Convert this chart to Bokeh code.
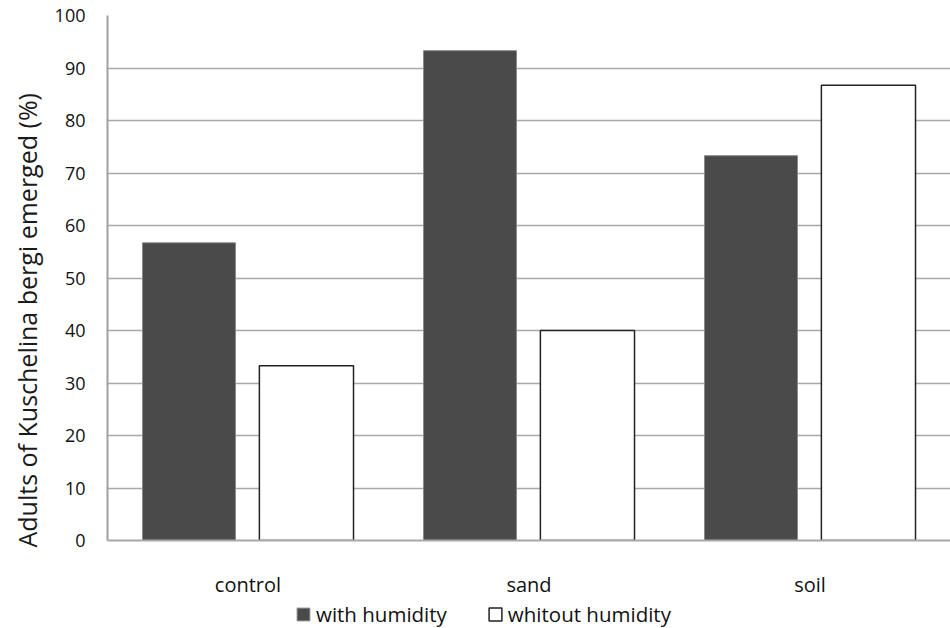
from bokeh.plotting import figure
from bokeh.models import FactorRange, Range1d, Legend, LegendItem, ColumnDataSource, FixedTicker, Title
from bokeh.layouts import column
from bokeh.transform import dodge
from bokeh.embed import file_html
from bokeh.resources import INLINE

categories = ["control", "sand", "soil"]
with_humidity = [56.7, 93.3, 73.3]
without_humidity = [33.3, 40.0, 86.7]
series_labels = ["with humidity", "whitout humidity"]
y_ticks = [0, 10, 20, 30, 40, 50, 60, 70, 80, 90, 100]
y_label = "Adults of Kuschelina bergi emerged (%)"

DARK = dict(fill_color="#4a4a4a", line_color="#8a8a8a", line_width=1)
LIGHT = dict(fill_color="white", line_color="#222222", line_width=1.5)

src = ColumnDataSource(dict(cat=categories, w=with_humidity, wo=without_humidity))

FONT = "Open Sans"

p = figure(x_range=FactorRange(*categories, range_padding=0), y_range=Range1d(0, 100),
           width=950, height=600, output_backend="svg", toolbar_location=None,
           min_border_left=107, min_border_right=0, min_border_top=15, min_border_bottom=52)
p.x_range.factor_padding = 0
p.outline_line_color = None

r1 = p.vbar(x=dodge("cat", -0.21, range=p.x_range), top="w", bottom=0, width=0.331, source=src, **DARK)
r2 = p.vbar(x=dodge("cat", 0.208, range=p.x_range), top="wo", bottom=0, width=0.335, source=src, **LIGHT)

p.yaxis.ticker = FixedTicker(ticks=y_ticks)
p.yaxis.major_label_text_font = FONT
p.yaxis.major_label_text_font_size = "18px"
p.yaxis.major_label_text_color = "#111111"
p.yaxis.major_label_standoff = 16
p.yaxis.major_tick_line_color = None
p.yaxis.minor_tick_line_color = None
p.yaxis.axis_line_color = "#a0a0a0"
p.yaxis.axis_line_width = 2

p.add_layout(Title(text=y_label, align="left", offset=-7, text_font=FONT, text_font_size="25px",
                   text_font_style="normal", text_color="#1a1a1a", vertical_align="top",
                   standoff=12), "left")

p.xaxis.major_label_text_font = FONT
p.xaxis.major_label_text_font_size = "20px"
p.xaxis.major_label_text_color = "#111111"
p.xaxis.major_label_standoff = 24
p.xaxis.major_tick_line_color = None
p.xaxis.axis_line_color = "#a8a8a8"
p.xaxis.axis_line_width = 2

p.xgrid.grid_line_color = None
p.ygrid.grid_line_color = "#a8a8a8"
p.ygrid.grid_line_width = 1.5

# legend strip underneath (its frame is aligned with the chart's frame)
lg = figure(width=950, height=28, output_backend="svg", toolbar_location=None,
            x_axis_type=None, y_axis_type=None, x_range=Range1d(0, 1), y_range=Range1d(0, 1),
            min_border_left=0, min_border_right=0, min_border_top=0, min_border_bottom=0)
lg.outline_line_color = None
lg.xgrid.grid_line_color = None
lg.ygrid.grid_line_color = None
d1 = lg.vbar(x=[0.5], top=[0.5], width=0.1, visible=False, **DARK)
d2 = lg.vbar(x=[0.5], top=[0.5], width=0.1, visible=False, **LIGHT)

legend = Legend(items=[LegendItem(label=series_labels[0], renderers=[d1]),
                       LegendItem(label=series_labels[1], renderers=[d2])],
                orientation="horizontal", location=(188, 0),
                label_text_font=FONT, label_text_font_size="20.5px", label_text_color="#111111",
                glyph_width=16, glyph_height=16, label_standoff=5, spacing=40,
                padding=0, margin=0, border_line_color=None, background_fill_alpha=0,
                inactive_fill_alpha=0)
lg.add_layout(legend, "center")

layout = column(p, lg, spacing=0)
open("out.html", "w").write(file_html(layout, INLINE))
